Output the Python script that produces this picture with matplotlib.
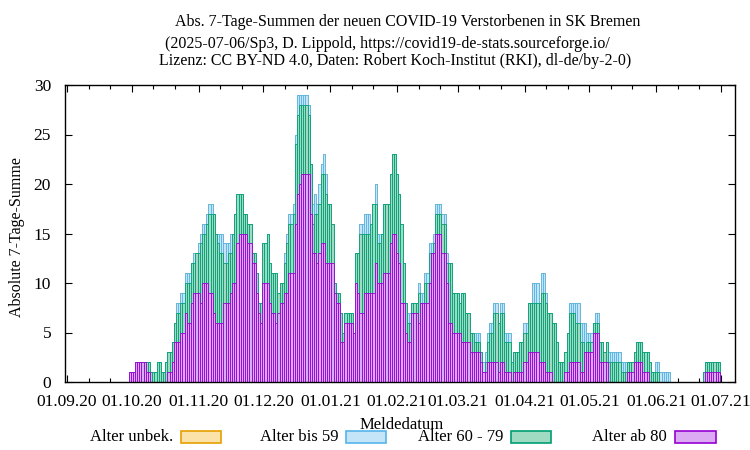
import numpy as np
import matplotlib
matplotlib.use("Agg")
import matplotlib.pyplot as plt
import matplotlib.dates as mdates
from matplotlib.patches import Rectangle
import datetime as dt

# ---------------- data (daily 7-day sums, starting 2020-09-30) ----------------
start_date = dt.date(2020, 9, 30)

alter_ab80 = [
    1, 1, 1, 2, 2, 2, 2, 2, 1, 1,
    0, 0, 0, 0, 0, 0, 0, 0, 1, 1,
    2, 4, 4, 4, 5, 5, 7, 6, 6, 8,
    9, 9, 9, 8, 10, 10, 10, 9, 9, 7,
    6, 6, 6, 6, 8, 8, 8, 9, 10, 10,
    14, 15, 15, 15, 15, 14, 14, 12, 12, 9,
    7, 6, 10, 10, 10, 8, 7, 7, 6, 7,
    8, 8, 9, 9, 11, 11, 11, 16, 19, 20,
    21, 21, 21, 21, 17, 13, 13, 12, 13, 14,
    14, 12, 12, 12, 12, 9, 8, 8, 4, 4,
    6, 6, 6, 6, 5, 10, 9, 7, 7, 9,
    9, 9, 9, 9, 12, 10, 10, 10, 11, 11,
    11, 14, 15, 15, 13, 12, 8, 8, 5, 4,
    4, 7, 7, 7, 6, 8, 8, 8, 8, 10,
    13, 13, 15, 15, 15, 13, 13, 10, 6, 6,
    5, 5, 5, 5, 4, 4, 4, 4, 3, 3,
    3, 3, 3, 2, 1, 1, 2, 2, 2, 2,
    2, 1, 2, 2, 1, 1, 1, 0, 1, 1,
    1, 1, 1, 2, 2, 3, 3, 3, 3, 3,
    2, 2, 2, 1, 1, 1, 0, 0, 0, 0,
    0, 0, 1, 1, 2, 2, 2, 2, 2, 1,
    1, 3, 3, 3, 3, 5, 5, 5, 2, 2,
    2, 2, 0, 0, 0, 0, 0, 0, 0, 0,
    0, 1, 1, 1, 2, 2, 2, 2, 1, 1,
    1, 0, 0, 0, 0, 0, 0, 0, 0, 0,
    0, 0, 0, 0, 0, 0, 0, 0, 0, 0,
    0, 0, 0, 0, 0, 0, 0, 1, 1, 1,
    1, 1, 1, 1,
]

alter_60_79 = [
    0, 0, 0, 0, 0, 0, 0, 0, 1, 1,
    1, 1, 1, 2, 2, 1, 1, 2, 2, 2,
    2, 2, 3, 3, 3, 3, 3, 4, 4, 4,
    3, 4, 4, 6, 5, 5, 6, 8, 8, 10,
    9, 8, 7, 7, 4, 4, 5, 4, 5, 7,
    5, 4, 4, 2, 2, 2, 2, 1, 1, 2,
    1, 2, 4, 4, 5, 4, 4, 4, 5, 2,
    2, 2, 3, 5, 5, 5, 6, 8, 8, 8,
    7, 7, 7, 6, 5, 3, 4, 5, 5, 7,
    7, 7, 6, 6, 4, 1, 1, 1, 3, 1,
    1, 1, 1, 1, 0, 3, 4, 8, 8, 6,
    6, 6, 7, 9, 6, 4, 4, 5, 7, 7,
    7, 7, 8, 8, 8, 7, 8, 4, 3, 2,
    2, 1, 1, 1, 3, 0, 0, 2, 2, 3,
    0, 1, 2, 2, 2, 3, 3, 2, 6, 6,
    4, 4, 4, 3, 5, 5, 3, 3, 2, 2,
    1, 1, 1, 1, 0, 1, 2, 3, 3, 5,
    5, 5, 5, 5, 3, 3, 3, 2, 2, 2,
    2, 3, 3, 3, 3, 5, 5, 5, 5, 5,
    6, 7, 7, 7, 6, 6, 6, 6, 4, 2,
    2, 2, 2, 4, 5, 5, 5, 4, 4, 3,
    3, 0, 1, 1, 1, 1, 1, 1, 2, 2,
    1, 2, 2, 2, 2, 2, 2, 2, 1, 1,
    1, 1, 1, 1, 1, 2, 2, 2, 2, 2,
    2, 2, 1, 1, 1, 1, 0, 0, 0, 0,
    0, 0, 0, 0, 0, 0, 0, 0, 0, 0,
    0, 0, 0, 0, 0, 0, 1, 1, 1, 1,
    1, 1, 1, 1,
]

alter_bis59 = [
    0, 0, 0, 0, 0, 0, 0, 0, 0, 0,
    0, 0, 0, 0, 0, 0, 0, 0, 0, 0,
    0, 0, 1, 1, 1, 1, 1, 1, 1, 0,
    1, 0, 1, 1, 1, 1, 1, 1, 1, 0,
    0, 1, 2, 2, 2, 2, 1, 2, 0, 0,
    0, 0, 0, 0, 0, 0, 0, 0, 0, 0,
    0, 0, 0, 0, 0, 0, 0, 0, 0, 0,
    0, 0, 1, 1, 1, 1, 1, 1, 2, 1,
    1, 1, 1, 1, 0, 2, 2, 1, 2, 1,
    2, 2, 0, 0, 0, 0, 0, 0, 0, 0,
    0, 0, 0, 0, 0, 0, 0, 1, 1, 2,
    2, 2, 0, 0, 2, 1, 1, 0, 0, 0,
    0, 0, 0, 0, 0, 0, 0, 0, 0, 1,
    1, 0, 0, 0, 1, 1, 1, 1, 1, 1,
    1, 1, 1, 1, 1, 1, 1, 1, 0, 0,
    0, 0, 0, 0, 0, 0, 0, 0, 0, 0,
    1, 1, 1, 0, 1, 1, 1, 1, 1, 1,
    1, 0, 1, 1, 1, 1, 1, 0, 0, 0,
    0, 0, 0, 1, 1, 0, 0, 2, 2, 2,
    0, 2, 2, 1, 0, 0, 0, 0, 0, 0,
    0, 0, 0, 0, 1, 1, 1, 2, 2, 2,
    2, 3, 1, 1, 1, 0, 1, 1, 0, 0,
    0, 0, 1, 1, 1, 1, 1, 1, 1, 1,
    1, 0, 0, 0, 0, 0, 0, 0, 0, 0,
    0, 0, 0, 0, 1, 1, 1, 1, 1, 1,
    1, 0, 0, 0, 0, 0, 0, 0, 0, 0,
    0, 0, 0, 0, 0, 0, 0, 0, 0, 0,
    0, 0, 0, 0,
]

alter_unbek = [0] * len(alter_ab80)

series_labels = ["Alter unbek.", "Alter bis 59", "Alter 60 - 79", "Alter ab 80"]
face_colors = ["#fbe2a8", "#c4e4f8", "#9fdac2", "#dcaaf2"]
edge_colors = ["#e69f00", "#56b4e9", "#009e73", "#9400d3"]

title_lines = [
    "Abs. 7-Tage-Summen der neuen COVID-19 Verstorbenen in SK Bremen",
    "(2025-07-06/Sp3, D. Lippold, https://covid19-de-stats.sourceforge.io/",
    "Lizenz: CC BY-ND 4.0, Daten: Robert Koch-Institut (RKI), dl-de/by-2-0)",
]

# ---------------- figure ----------------
plt.rcParams["font.family"] = ["Liberation Serif", "DejaVu Serif"]
W, H = 750, 450
fig = plt.figure(figsize=(W / 100, H / 100), dpi=100)
ax = fig.add_axes([65 / W, 1 - 382 / H, 670 / W, 297 / H])

x0 = mdates.date2num(start_date)
x = x0 + np.arange(len(alter_ab80))

ab80 = np.array(alter_ab80)
g6079 = np.array(alter_60_79)
b59 = np.array(alter_bis59)
unb = np.array(alter_unbek)

layers = [
    unb + b59 + g6079 + ab80,
    b59 + g6079 + ab80,
    g6079 + ab80,
    ab80,
]
for h, fc, ec in zip(layers, face_colors, edge_colors):
    ax.bar(x, h, width=1.0, color=fc, edgecolor=ec, linewidth=0.6, align="center", zorder=2)

origin = mdates.date2num(dt.date(2020, 9, 1))
ax.set_xlim(origin - 0.93, origin + 309.5)
ax.set_ylim(0, 30)
ax.set_yticks(np.arange(0, 31, 5))

ax.xaxis.set_major_locator(mdates.MonthLocator(bymonthday=1))
ax.xaxis.set_major_formatter(mdates.DateFormatter("%d.%m.%y"))
ax.xaxis.set_minor_locator(mdates.DayLocator(bymonthday=[11, 21]))

ax.tick_params(which="major", direction="in", length=5, width=0.8, top=True, right=True,
               labelsize=12.5)
ax.tick_params(which="minor", direction="in", length=3, width=0.8, top=True, right=False)
ax.tick_params(axis="y", which="minor", left=False, right=False)
ax.tick_params(axis="x", which="major", pad=9)
ax.tick_params(axis="y", which="major", pad=10)
for sp in ax.spines.values():
    sp.set_linewidth(1.0)
    sp.set_zorder(5)

# titles / labels
for txt, cx, cy in zip(title_lines, [408, 387, 395], [22, 43.5, 61]):
    fig.text(cx / W, 1 - cy / H, txt, ha="center", va="center", fontsize=11.5)
fig.text(17 / W, 1 - 237 / H, "Absolute 7-Tage-Summe", rotation=90, ha="center", va="center", fontsize=11.5)
fig.text(402 / W, 1 - 425 / H, "Meldedatum", ha="center", va="center", fontsize=12)

# legend (gnuplot style: label then sample box)
boxes = [(181, 221), (346, 386), (511, 551), (675, 716)]
ly = 437
for lab, (bl, br), fc, ec in zip(series_labels, boxes, face_colors, edge_colors):
    fig.text((bl - 8) / W, 1 - ly / H, lab, ha="right", va="center", fontsize=12)
    fig.patches.append(Rectangle((bl / W, 1 - (ly + 6) / H), (br - bl) / W, 12 / H,
                                 transform=fig.transFigure, facecolor=fc, edgecolor=ec,
                                 linewidth=1.2))

fig.savefig("out.png", dpi=100)
